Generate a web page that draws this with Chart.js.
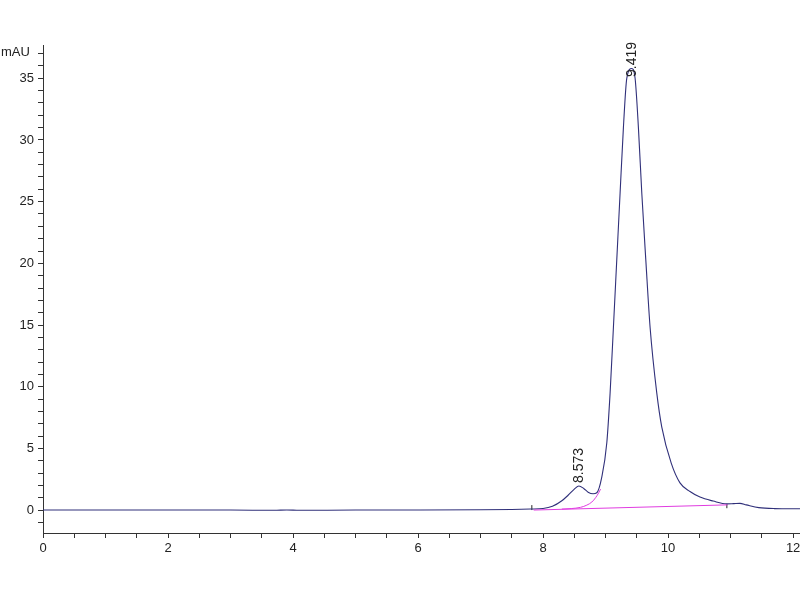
<!DOCTYPE html>
<html>
<head>
<meta charset="utf-8">
<script src="https://cdn.jsdelivr.net/npm/chart.js@4"></script>
<style>
  html, body { margin: 0; padding: 0; background: #fff; }
  #wrap { width: 800px; height: 600px; }
</style>
</head>
<body>
<div id="wrap"><canvas id="canvas" width="800" height="600"></canvas></div>
<script>
// retention time (min) and detector signal (mAU)
var timeMin = [0, 1, 2, 3, 3.7, 3.9, 4.1, 5, 6, 7, 7.5, 7.8, 8.0, 8.15, 8.3, 8.4, 8.5, 8.573, 8.65,
  8.72, 8.8, 8.859, 8.939, 9.019, 9.072, 9.125, 9.179, 9.232, 9.285, 9.339, 9.419,
  9.472, 9.525, 9.579, 9.643, 9.712, 9.819, 9.899, 10.05, 10.19, 10.35, 10.51, 10.72,
  10.94, 11.05, 11.15, 11.25, 11.45, 11.7, 12.11];
var signalMAU = [0, 0, 0, 0, -0.02, 0.01, -0.02, 0, 0, 0.02, 0.05, 0.08, 0.12, 0.3, 0.75, 1.2, 1.7, 1.95, 1.75,
  1.45, 1.32, 1.4, 2.67, 5.43, 9.48, 14.8, 20.3, 25.7, 31.0, 35.0, 35.8,
  35.0, 31.0, 25.7, 20.3, 14.8, 9.48, 6.73, 3.8, 2.2, 1.5, 1.05, 0.73,
  0.5, 0.52, 0.54, 0.42, 0.2, 0.12, 0.1];

// integration baseline (magenta)
var baseTime = [7.85, 10.95];
var baseMAU = [0, 0.42];

// tangent skim under the small peak
var skimTime = [8.3, 8.45, 8.6, 8.7, 8.78, 8.84, 8.89, 8.92];
var skimMAU = [0.08, 0.12, 0.22, 0.4, 0.65, 1.0, 1.4, 1.7];

// peak start / end event markers
var markerTime = [7.82, 10.94];
var markerLow = [0, 0.15];
var markerHigh = [0.4, 0.5];

// labelled peaks
var peakTime = [8.573, 9.419];
var peakMAU = [1.95, 35.8];
var peakLabel = ['8.573', '9.419'];

var yLabels = [0, 5, 10, 15, 20, 25, 30, 35];
var xLabels = [0, 2, 4, 6, 8, 10, 12];

function pts(xs, ys) {
  return xs.map(function (x, i) { return { x: x, y: ys[i] }; });
}

var markerPts = [];
markerTime.forEach(function (t, i) {
  markerPts.push({ x: t, y: markerLow[i] });
  markerPts.push({ x: t, y: markerHigh[i] });
  markerPts.push({ x: t, y: null });
});

var FONT = 'Arial, "Liberation Sans", sans-serif';

var extras = {
  id: 'extras',
  afterDatasetsDraw: function (chart) {
    var ctx = chart.ctx;
    var xs = chart.scales.x, ys = chart.scales.y;
    ctx.save();
    ctx.fillStyle = '#222';
    ctx.font = '14px ' + FONT;
    peakTime.forEach(function (t, i) {
      var px = xs.getPixelForValue(t);
      var w = ctx.measureText(peakLabel[i]).width;
      // label sits just above the apex, pushed down when it would leave the top
      var bottom = Math.max(ys.getPixelForValue(peakMAU[i]) - 3, chart.chartArea.top - 3 + w);
      ctx.save();
      ctx.translate(px, bottom);
      ctx.rotate(-Math.PI / 2);
      ctx.textAlign = 'left';
      ctx.textBaseline = 'middle';
      ctx.fillText(peakLabel[i], 0, 0);
      ctx.restore();
    });
    ctx.font = '13px ' + FONT;
    ctx.textAlign = 'left';
    ctx.textBaseline = 'middle';
    ctx.fillText('mAU', 1, 52);
    ctx.restore();
  }
};

var ctx = document.getElementById('canvas');
var chart = new Chart(ctx, {
  type: 'line',
  data: {
    datasets: [
      {
        label: 'baseline',
        data: pts(baseTime, baseMAU),
        borderColor: '#e03ce0',
        borderWidth: 1,
        pointRadius: 0,
        fill: false
      },
      {
        label: 'skim',
        data: pts(skimTime, skimMAU),
        borderColor: '#e03ce0',
        borderWidth: 1,
        pointRadius: 0,
        cubicInterpolationMode: 'monotone',
        fill: false
      },
      {
        label: 'signal',
        data: pts(timeMin, signalMAU),
        borderColor: '#30307a',
        borderWidth: 1.1,
        pointRadius: 0,
        cubicInterpolationMode: 'monotone',
        fill: false
      },
      {
        label: 'markers',
        data: markerPts,
        borderColor: '#222',
        borderWidth: 1,
        pointRadius: 0,
        spanGaps: false,
        fill: false
      }
    ]
  },
  options: {
    responsive: false,
    animation: false,
    layout: { padding: { top: 45, right: 0, left: 0, bottom: 0 } },
    plugins: {
      legend: { display: false },
      tooltip: { enabled: false }
    },
    scales: {
      x: {
        type: 'linear',
        min: 0,
        max: 12.11,
        afterFit: function (s) { s.height = 67; s.paddingRight = 0; s.paddingLeft = 0; },
        border: { display: true, color: '#333', width: 1 },
        grid: { drawOnChartArea: false, drawTicks: true, tickLength: 5, color: '#333' },
        ticks: {
          stepSize: 0.5,
          includeBounds: false,
          autoSkip: false,
          maxRotation: 0,
          padding: 3,
          color: '#222',
          font: { family: FONT, size: 13 },
          callback: function (v) { return xLabels.indexOf(v) >= 0 ? String(v) : ''; }
        }
      },
      y: {
        type: 'linear',
        min: -1.86,
        max: 37.7,
        afterFit: function (s) { s.width = 43; s.paddingTop = 0; s.paddingBottom = 0; },
        border: { display: true, color: '#333', width: 1 },
        grid: { drawOnChartArea: false, drawTicks: true, tickLength: 5, color: '#333' },
        ticks: {
          stepSize: 1,
          includeBounds: false,
          autoSkip: false,
          padding: 4,
          color: '#222',
          font: { family: FONT, size: 13 },
          callback: function (v) { return yLabels.indexOf(v) >= 0 ? String(v) : ''; }
        }
      }
    }
  },
  plugins: [extras]
});
</script>
</body>
</html>
